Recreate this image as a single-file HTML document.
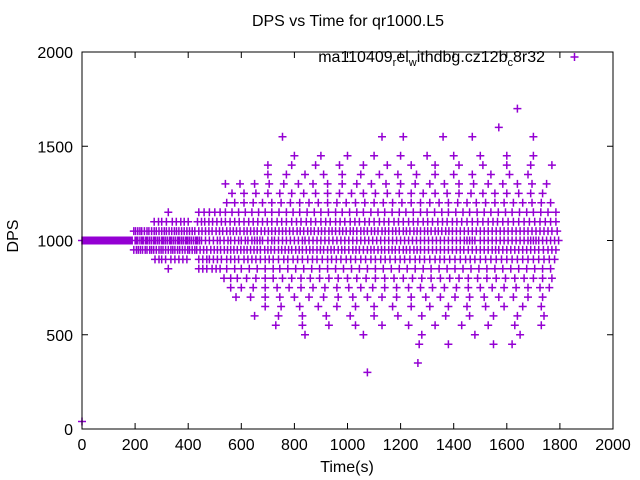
<!DOCTYPE html>
<html><head><meta charset="utf-8"><style>
body{margin:0;background:#fff}
svg{display:block;font-family:"Liberation Sans",sans-serif}
</style></head><body>
<svg id="chart" width="640" height="480">
<text x="348" y="26" font-size="16" text-anchor="middle">DPS vs Time for qr1000.L5</text>
<text x="0" y="0" font-size="16" text-anchor="middle" transform="translate(18 236) rotate(-90)">DPS</text>
<text x="347" y="472" font-size="16" text-anchor="middle">Time(s)</text>
<g id="ticks"></g>
<g id="pts"></g>
<rect x="82" y="52" width="531" height="377" fill="none" stroke="#000" stroke-width="1"/>
<g>
<text x="545" y="62" font-size="16" text-anchor="end">ma110409<tspan font-size="11" dy="4">r</tspan><tspan dy="-4">el</tspan><tspan font-size="11" dy="4">w</tspan><tspan dy="-4">ithdbg.cz12b</tspan><tspan font-size="11" dy="4">c</tspan><tspan dy="-4">8r32</tspan></text>
<path d="M570.5 57h8M574.5 53v8" stroke="#9400d3" stroke-width="1.5"/>
</g>
</svg>
<script>
const xTicks=[0,200,400,600,800,1000,1200,1400,1600,1800,2000];
const yTicks=[0,500,1000,1500,2000];
const levels=[1000,950,1050,900,1100,850,1150,800,1200,750,1250,700,1300,650,1350,600,1400,550,1450,500,1500,450,1550,1600,1700,300,350,40];
const t1000=[0,3,6,9,12,15,18,21,24,27,30,33,36,39,42,45,48,51,54,57,60,63,66,69,72,75,78,81,84,87,90,93,96,99,102,105,108,111,114,117,120,123,126,129,132,135,138,141,144,147,150,153,156,159,162,165,168,171,174,177,180,183,186,189,200,203,206,210,218,225,228,232,240,243,248,255,262,270,273,278,285,292,300,303,308,315,322,330,333,338,345,352,360,363,368,375,382,390,393,398,405,412,420,428,431,435,442,450,465,480,495,510,520,535,550,560,575,590,600,615,625,640,650,660,670,680,700,715,725,740,755,770,785,800,815,830,840,855,870,885,900,915,930,945,960,975,990,1005,1020,1035,1050,1065,1080,1095,1110,1125,1140,1155,1170,1185,1200,1215,1230,1245,1260,1275,1290,1305,1320,1335,1350,1365,1380,1395,1410,1425,1440,1450,1460,1470,1480,1500,1515,1530,1545,1560,1575,1590,1605,1620,1635,1650,1665,1680,1690,1700,1710,1720,1735,1750,1765,1780,1795];
const t950=[195,205,212,220,228,238,245,255,262,270,280,290,298,305,315,325,335,342,350,360,368,378,388,398,405,415,425,432,445,458,470,485,498,510,522,536,548,560,572,585,598,610,622,635,648,660,672,688,700,712,725,740,752,765,778,790,805,818,830,845,858,870,885,898,910,925,938,950,965,978,990,1005,1020,1032,1045,1060,1075,1088,1100,1115,1128,1140,1155,1168,1180,1195,1210,1222,1235,1250,1262,1275,1290,1305,1320,1335,1350,1365,1380,1395,1410,1425,1438,1455,1470,1485,1500,1515,1530,1545,1558,1570,1585,1600,1615,1630,1645,1660,1675,1690,1705,1720,1738,1755,1770,1785];
const t1050=[195,202,210,218,225,235,245,252,262,272,280,290,300,310,318,328,338,348,356,365,375,385,395,405,415,425,440,452,465,478,490,505,518,530,545,558,570,582,595,610,622,635,648,660,675,688,702,715,728,742,755,768,782,795,810,822,835,850,862,875,890,902,915,930,942,955,970,982,995,1010,1022,1035,1050,1062,1075,1090,1102,1115,1130,1142,1155,1170,1182,1195,1210,1222,1235,1250,1262,1275,1290,1302,1315,1330,1342,1355,1370,1382,1395,1410,1425,1440,1455,1470,1485,1500,1515,1530,1545,1560,1575,1590,1605,1620,1635,1650,1665,1680,1695,1710,1725,1740,1755,1770,1790];
const t900=[275,290,300,315,335,350,365,380,395,440,455,470,480,495,510,525,545,560,575,590,610,625,640,655,672,690,705,720,740,760,775,795,812,830,850,868,885,905,925,940,958,975,995,1012,1030,1050,1068,1088,1105,1125,1142,1160,1180,1198,1215,1235,1255,1272,1290,1310,1330,1348,1365,1385,1405,1425,1445,1462,1480,1500,1520,1540,1560,1580,1600,1620,1640,1660,1680,1700,1720,1740,1760,1780];
const t1100=[272,288,300,318,340,355,372,385,400,435,450,462,478,492,508,525,540,558,575,592,610,628,645,662,680,698,715,735,752,770,790,808,825,845,862,880,900,918,935,955,972,990,1010,1028,1045,1065,1082,1100,1120,1138,1155,1175,1192,1210,1230,1248,1265,1285,1302,1320,1340,1358,1375,1395,1412,1430,1450,1470,1490,1510,1530,1548,1565,1585,1605,1625,1645,1665,1685,1705,1725,1745,1765,1785];
const t850=[325,440,455,470,490,505,520,545,575,600,630,660,690,720,745,775,805,835,865,895,925,955,985,1015,1045,1075,1105,1135,1165,1195,1225,1255,1285,1315,1345,1375,1405,1435,1465,1495,1525,1555,1585,1615,1645,1675,1705,1735,1765];
const t1150=[325,440,460,480,500,520,540,565,590,615,640,665,690,715,742,770,795,820,848,875,900,928,955,980,1008,1035,1060,1088,1115,1140,1168,1195,1220,1248,1275,1300,1328,1355,1380,1408,1435,1460,1488,1515,1540,1568,1595,1620,1648,1675,1700,1728,1755,1785];
const t800=[535,560,585,620,655,690,720,755,790,825,860,895,930,965,1000,1035,1070,1105,1140,1175,1210,1245,1280,1315,1350,1385,1420,1455,1490,1525,1560,1595,1630,1665,1700,1735,1770];
const t1200=[545,575,610,645,680,715,750,785,820,855,890,925,960,995,1030,1065,1100,1135,1170,1205,1240,1275,1310,1345,1380,1415,1450,1485,1520,1555,1590,1625,1660,1695,1730,1765];
const t750=[560,600,645,690,735,780,825,870,915,960,1005,1050,1095,1140,1185,1230,1275,1320,1365,1410,1455,1500,1545,1590,1635,1680,1725,1760];
const t1250=[565,610,655,700,745,790,835,880,925,970,1015,1060,1105,1150,1195,1240,1285,1330,1375,1420,1465,1510,1555,1600,1645,1690,1735];
const t700=[580,635,690,745,800,855,910,965,1020,1075,1130,1185,1240,1295,1350,1405,1460,1515,1570,1625,1680,1735];
const t1300=[540,595,650,705,760,815,870,925,980,1035,1090,1145,1200,1255,1310,1365,1420,1475,1530,1585,1640,1695,1750];
const t650=[690,750,820,890,960,1030,1100,1170,1240,1310,1380,1450,1520,1590,1660,1730];
const t1350=[700,770,840,910,980,1050,1120,1190,1260,1330,1400,1470,1540,1610,1680];
const t600=[650,740,830,920,1010,1100,1190,1280,1370,1460,1550,1640,1740];
const t1400=[700,790,880,970,1060,1150,1240,1330,1420,1510,1600,1690,1770];
const t550=[730,830,930,1030,1130,1230,1330,1430,1530,1630,1730];
const t1450=[800,900,1000,1100,1200,1300,1400,1500,1600,1700];
const t500=[840,1060,1280,1480,1650];
const t1500=[];
const t450=[1270,1380,1550,1620];
const t1550=[755,1130,1210,1360,1470,1700];
const t1600=[1570];
const t1700=[1640];
const t300=[1075];
const t350=[1265];
const t40=[0];
const timesByLevel=[t1000,t950,t1050,t900,t1100,t850,t1150,t800,t1200,t750,t1250,t700,t1300,t650,t1350,t600,t1400,t550,t1450,t500,t1500,t450,t1550,t1600,t1700,t300,t350,t40];
const X=t=>82+t*531/2000, Y=v=>429-v*377/2000;
const NS='http://www.w3.org/2000/svg';
const tk=document.getElementById('ticks');
xTicks.forEach(v=>{
 const p=document.createElementNS(NS,'path');
 p.setAttribute('d',`M${X(v)} 429v-6M${X(v)} 52v6`);p.setAttribute('stroke','#000');
 
 
 tk.appendChild(p);
 const t=document.createElementNS(NS,'text');
 t.setAttribute('x',X(v));t.setAttribute('y',450);t.setAttribute('font-size','16');t.setAttribute('text-anchor','middle');t.textContent=v;
 
 
 tk.appendChild(t);
});
yTicks.forEach(v=>{
 const p=document.createElementNS(NS,'path');
 p.setAttribute('d',`M82 ${Y(v)}h6M613 ${Y(v)}h-6`);p.setAttribute('stroke','#000');
 
 
 tk.appendChild(p);
 const t=document.createElementNS(NS,'text');
 t.setAttribute('x',73);t.setAttribute('y',Y(v)+6);t.setAttribute('font-size','16');t.setAttribute('text-anchor','end');t.textContent=v;
 
 
 tk.appendChild(t);
});
const pg=document.getElementById('pts');
let d='';
levels.forEach((lv,i)=>{(timesByLevel[i]||[]).forEach(t=>{const x=X(t),y=Y(lv);d+=`M${(x-4).toFixed(1)} ${y.toFixed(1)}h8M${x.toFixed(1)} ${(y-4).toFixed(1)}v8`;});});
const path=document.createElementNS(NS,'path');
path.setAttribute('d',d);path.setAttribute('stroke','#9400d3');path.setAttribute('stroke-width','1.5');path.setAttribute('fill','none');


pg.appendChild(path);
</script>
</body></html>
